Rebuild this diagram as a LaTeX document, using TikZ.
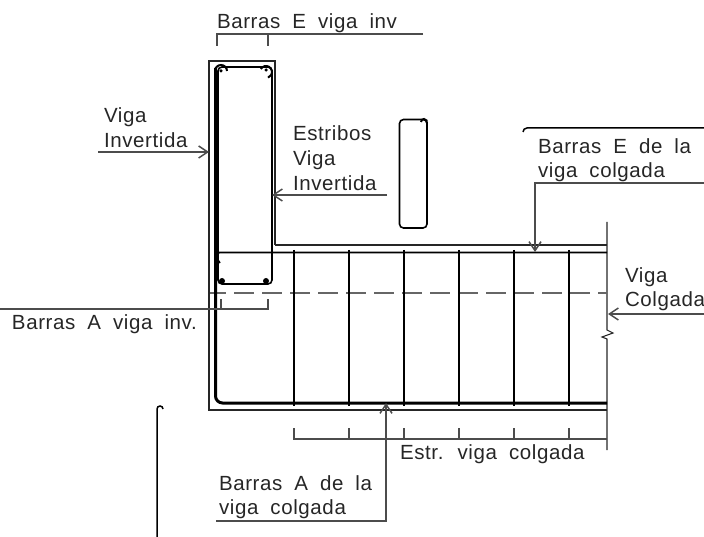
\documentclass[tikz,border=0pt]{standalone}
\usepackage{fontspec}
\setmainfont[LetterSpace=3,WordSpace=1.9]{Liberation Sans}
\usetikzlibrary{arrows.meta}
\tikzset{
  x=1pt,y=-1pt,
  thinline/.style={line width=1.1pt,black!85},
  stirrup/.style={line width=1.6pt,black,rounded corners=4pt},
  rebar/.style={line width=3pt,black,rounded corners=7pt},
  leader/.style={line width=1.1pt,black!70},
  pointer/.style={leader,-{Straight Barb[length=9pt,width=12pt,line width=1.5pt]}},
  lab/.style={anchor=base west,inner sep=0pt,outer sep=0pt,font=\fontsize{20.5}{20.5}\selectfont,text=black!85},
  dot/.style={circle,fill=black,inner sep=0pt,minimum size=6pt},
}
\begin{document}
\begin{tikzpicture}
\useasboundingbox (0,0) rectangle (704,537);
% named anchor points
\coordinate (topE) at (217,34);
\coordinate (topEend) at (423,34);
\coordinate (botAstart) at (0,309);
\coordinate (botAend) at (268,309);
\coordinate (viStart) at (98,152);
\coordinate (viEnd) at (209,152);
\coordinate (eviStart) at (387,195);
\coordinate (eviEnd) at (272,195);
\coordinate (ecStart) at (704,183);
\coordinate (ecCorner) at (535,183);
\coordinate (ecEnd) at (535,252);
\coordinate (vcStart) at (704,314);
\coordinate (vcEnd) at (608,314);
\coordinate (acStart) at (216,521);
\coordinate (acCorner) at (386,521);
\coordinate (acEnd) at (386,403);
% outline
\draw[thinline] (275,245) -- (275,61) -- (209,61) -- (209,410) -- (607,410);
\draw[thinline] (275,245) -- (607,245);
\draw[thinline] (607,222) -- (607,330) -- (613,333) -- (602,337) -- (607,339) -- (607,450);
% dashed axis
\draw[line width=1.2pt,black!60,dash pattern=on 20pt off 8pt,dash phase=4pt] (210,293) -- (607,293);
% column stirrup
\draw[stirrup] (218,75) -- (218,67) -- (272,67) -- (272,284) -- (218,284) -- (218,75);
% beam top bar and stirrups
\draw[line width=1.6pt,black] (220,263) -- (216,257) -- (219,252.5) -- (607,252.5);
\foreach \xx in {294,349,404,459,514,569}
  \draw[line width=1.2pt,black] (\xx,250) -- (\xx,406);
% main bar
\draw[rebar] (215.5,68) -- (215.5,403) -- (607,403);
% corner bars
\node[dot] (d1) at (222,281) {};
\node[dot] (d2) at (266,281) {};
\node[dot,minimum size=3.5pt] (d3) at (221,71) {};
\node[dot,minimum size=3.5pt] (d4) at (266,70) {};
\draw[line width=2pt] (215,71) arc[start angle=180,end angle=0,radius=6pt];
\draw[line width=2pt] (260.8,69) arc[start angle=150,end angle=-70,radius=6pt];
% free stirrup
\draw[line width=1.6pt,rounded corners=4pt] (399.5,119.5) rectangle (427,228);
\draw[line width=2pt] (421,122) arc[start angle=180,end angle=-20,radius=3pt];
% loose bars
\draw[line width=1.5pt] (157,537) -- (157,409) arc[start angle=180,end angle=0,radius=3pt];
\draw[line width=1.5pt] (523,132) arc[start angle=180,end angle=90,radius=4pt] -- (704,128);
% dimension lines
\draw[leader] (topEend) -- (topE) -- (217,46);
\draw[leader] (268,34) -- (268,46);
\draw[leader] (botAstart) -- (botAend) -- (268,299);
\draw[leader] (221,309) -- (221,299);
\draw[leader] (294,428) -- (294,439) -- (607,439);
\foreach \xx in {349,404,459,514,569}
  \draw[leader] (\xx,428) -- (\xx,439);
% pointers
\draw[pointer] (viStart) -- (viEnd);
\draw[pointer] (eviStart) -- (eviEnd);
\draw[pointer] (ecStart) -- (ecCorner) -- (ecEnd);
\draw[pointer] (vcStart) -- (vcEnd);
\draw[pointer] (acStart) -- (acCorner) -- (acEnd);
% labels
\node[lab] (t1) at (217,29) {Barras E viga inv};
\node[lab] (t2) at (104,123) {Viga};
\node[lab] (t3) at (104,148) {Invertida};
\node[lab] (t4) at (293,141) {Estribos};
\node[lab] (t5) at (293,166) {Viga};
\node[lab] (t6) at (293,191) {Invertida};
\node[lab] (t7) at (538,154) {Barras E de la};
\node[lab] (t8) at (538,178) {viga colgada};
\node[lab] (t9) at (625,283) {Viga};
\node[lab] (t10) at (625,307) {Colgada};
\node[lab] (t11) at (12,330) {Barras A viga inv.};
\node[lab] (t12) at (400,459) {Estr. viga colgada};
\node[lab] (t13) at (219,490) {Barras A de la};
\node[lab] (t14) at (219,514) {viga colgada};
\end{tikzpicture}
\end{document}
